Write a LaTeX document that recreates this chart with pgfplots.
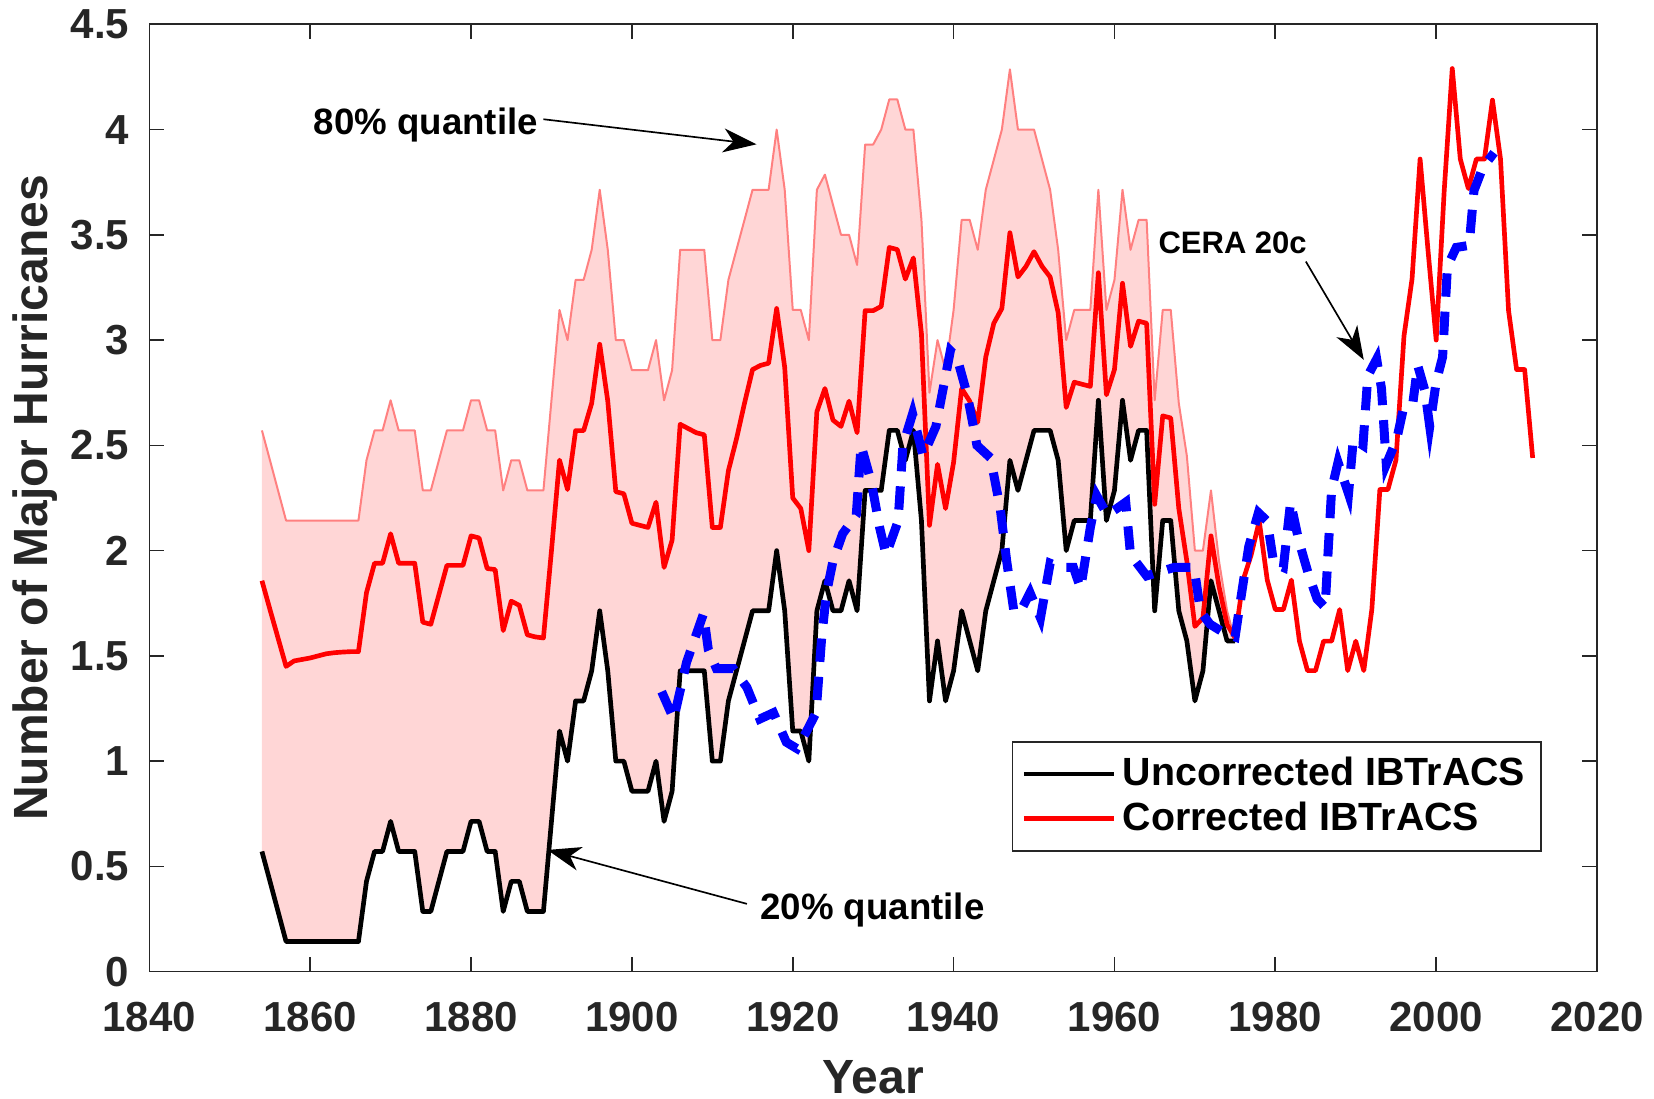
\documentclass[border=0pt]{standalone}
\usepackage{fontspec}
\setmainfont{Liberation Sans}
\usepackage{pgfplots}
\usepackage{pgfplotstable}
\pgfplotsset{compat=1.18}
\usepgfplotslibrary{fillbetween}
\usetikzlibrary{arrows.meta}

\definecolor{axgray}{RGB}{38,38,38}
\definecolor{bandfill}{RGB}{255,214,214}
\definecolor{bandline}{RGB}{255,128,128}

% Uncorrected IBTrACS (20% quantile edge) and 80% quantile
\pgfplotstableread{
year unc up
1854 0.571 2.571
1855 0.429 2.429
1856 0.286 2.286
1857 0.143 2.143
1858 0.143 2.143
1859 0.143 2.143
1860 0.143 2.143
1861 0.143 2.143
1862 0.143 2.143
1863 0.143 2.143
1864 0.143 2.143
1865 0.143 2.143
1866 0.143 2.143
1867 0.429 2.429
1868 0.571 2.571
1869 0.571 2.571
1870 0.714 2.714
1871 0.571 2.571
1872 0.571 2.571
1873 0.571 2.571
1874 0.286 2.286
1875 0.286 2.286
1876 0.429 2.429
1877 0.571 2.571
1878 0.571 2.571
1879 0.571 2.571
1880 0.714 2.714
1881 0.714 2.714
1882 0.571 2.571
1883 0.571 2.571
1884 0.286 2.286
1885 0.429 2.429
1886 0.429 2.429
1887 0.286 2.286
1888 0.286 2.286
1889 0.286 2.286
1890 0.714 2.714
1891 1.143 3.143
1892 1.000 3.000
1893 1.286 3.286
1894 1.286 3.286
1895 1.429 3.429
1896 1.714 3.714
1897 1.429 3.429
1898 1.000 3.000
1899 1.000 3.000
1900 0.857 2.857
1901 0.857 2.857
1902 0.857 2.857
1903 1.000 3.000
1904 0.714 2.714
1905 0.857 2.857
1906 1.429 3.429
1907 1.429 3.429
1908 1.429 3.429
1909 1.429 3.429
1910 1.000 3.000
1911 1.000 3.000
1912 1.286 3.286
1913 1.429 3.429
1914 1.571 3.571
1915 1.714 3.714
1916 1.714 3.714
1917 1.714 3.714
1918 2.000 4.000
1919 1.714 3.714
1920 1.143 3.143
1921 1.143 3.143
1922 1.000 3.000
1923 1.714 3.714
1924 1.857 3.786
1925 1.714 3.643
1926 1.714 3.500
1927 1.857 3.500
1928 1.714 3.357
1929 2.286 3.929
1930 2.286 3.929
1931 2.286 4.000
1932 2.571 4.143
1933 2.571 4.143
1934 2.429 4.000
1935 2.571 4.000
1936 2.143 3.571
1937 1.286 2.750
1938 1.571 3.000
1939 1.286 2.857
1940 1.429 3.143
1941 1.714 3.571
1942 1.571 3.571
1943 1.429 3.429
1944 1.714 3.714
1945 1.857 3.857
1946 2.000 4.000
1947 2.429 4.286
1948 2.286 4.000
1949 2.429 4.000
1950 2.571 4.000
1951 2.571 3.857
1952 2.571 3.714
1953 2.429 3.429
1954 2.000 3.000
1955 2.143 3.143
1956 2.143 3.143
1957 2.143 3.143
1958 2.714 3.714
1959 2.143 3.143
1960 2.286 3.286
1961 2.714 3.714
1962 2.429 3.429
1963 2.571 3.571
1964 2.571 3.571
1965 1.714 2.714
1966 2.143 3.143
1967 2.143 3.143
1968 1.714 2.700
1969 1.571 2.450
1970 1.286 2.000
1971 1.429 2.000
1972 1.857 2.286
1973 1.714 1.950
1974 1.571 1.714
1975 1.571 1.571
}\bandtable

% Corrected IBTrACS
\pgfplotstableread{
year cor
1854 1.857
1855 1.720
1856 1.585
1857 1.450
1858 1.476
1859 1.483
1860 1.490
1861 1.500
1862 1.510
1863 1.515
1864 1.518
1865 1.520
1866 1.520
1867 1.800
1868 1.940
1869 1.940
1870 2.080
1871 1.940
1872 1.940
1873 1.940
1874 1.660
1875 1.650
1876 1.790
1877 1.930
1878 1.930
1879 1.930
1880 2.070
1881 2.060
1882 1.915
1883 1.910
1884 1.620
1885 1.760
1886 1.740
1887 1.600
1888 1.590
1889 1.585
1890 2.000
1891 2.430
1892 2.290
1893 2.570
1894 2.570
1895 2.700
1896 2.980
1897 2.710
1898 2.280
1899 2.270
1900 2.130
1901 2.120
1902 2.110
1903 2.230
1904 1.920
1905 2.050
1906 2.600
1907 2.580
1908 2.560
1909 2.550
1910 2.110
1911 2.110
1912 2.380
1913 2.530
1914 2.700
1915 2.860
1916 2.880
1917 2.890
1918 3.150
1919 2.870
1920 2.250
1921 2.200
1922 2.000
1923 2.660
1924 2.770
1925 2.620
1926 2.590
1927 2.710
1928 2.560
1929 3.140
1930 3.140
1931 3.160
1932 3.440
1933 3.430
1934 3.290
1935 3.390
1936 3.030
1937 2.120
1938 2.410
1939 2.200
1940 2.420
1941 2.770
1942 2.710
1943 2.610
1944 2.920
1945 3.080
1946 3.150
1947 3.510
1948 3.300
1949 3.350
1950 3.420
1951 3.350
1952 3.300
1953 3.130
1954 2.680
1955 2.800
1956 2.790
1957 2.780
1958 3.320
1959 2.740
1960 2.860
1961 3.270
1962 2.970
1963 3.090
1964 3.080
1965 2.220
1966 2.640
1967 2.630
1968 2.200
1969 1.950
1970 1.640
1971 1.680
1972 2.070
1973 1.830
1974 1.650
1975 1.585
1976 1.860
1977 1.980
1978 2.140
1979 1.860
1980 1.720
1981 1.720
1982 1.860
1983 1.570
1984 1.430
1985 1.430
1986 1.570
1987 1.570
1988 1.720
1989 1.430
1990 1.570
1991 1.430
1992 1.720
1993 2.290
1994 2.290
1995 2.430
1996 3.020
1997 3.290
1998 3.860
1999 3.420
2000 3.000
2001 3.710
2002 4.290
2003 3.860
2004 3.720
2005 3.860
2006 3.860
2007 4.140
2008 3.860
2009 3.140
2010 2.860
2011 2.860
2012 2.440
}\cortable

% CERA-20C reanalysis
\pgfplotstableread{
year cera
1903.7 1.33
1905.2 1.20
1906.8 1.47
1908.9 1.70
1909.5 1.53
1910.5 1.44
1912.6 1.44
1914.3 1.35
1915.9 1.20
1917.6 1.23
1919.2 1.09
1920.5 1.06
1921.7 1.14
1922.9 1.23
1923.6 1.59
1924.2 1.80
1925.0 1.95
1926.2 2.08
1927.9 2.17
1928.5 2.50
1929.8 2.32
1930.8 2.11
1931.6 1.98
1933.1 2.14
1933.7 2.50
1934.9 2.65
1936.2 2.45
1937.8 2.59
1939.6 2.95
1940.4 2.92
1941.7 2.74
1942.9 2.50
1944.6 2.44
1945.8 2.20
1946.6 1.95
1947.5 1.71
1948.3 1.71
1949.5 1.80
1950.8 1.68
1952.0 1.94
1953.3 1.92
1954.9 1.92
1955.8 1.82
1957.0 2.11
1957.8 2.26
1959.1 2.17
1960.3 2.20
1961.4 2.23
1962.0 1.98
1964.0 1.88
1967.4 1.92
1969.9 1.92
1970.7 1.71
1971.9 1.65
1973.6 1.61
1975.0 1.59
1975.7 1.77
1976.7 2.02
1977.9 2.18
1979.0 2.14
1979.8 1.94
1981.0 1.92
1981.9 2.23
1982.9 2.05
1984.1 1.89
1985.2 1.77
1986.2 1.73
1986.6 2.02
1987.0 2.29
1987.8 2.42
1989.1 2.27
1989.7 2.53
1990.9 2.50
1991.5 2.83
1992.6 2.91
1993.2 2.77
1993.8 2.41
1995.1 2.53
1995.9 2.67
1997.1 2.70
1997.7 2.88
1998.6 2.76
1999.2 2.59
2000.0 2.80
2000.8 2.92
2001.4 3.35
2002.5 3.44
2004.1 3.45
2004.7 3.71
2005.8 3.82
2007.2 3.89
}\ceratable

\begin{document}
\begin{tikzpicture}
\begin{axis}[
  name=ax,
  scale only axis,
  width=434.3pt, height=284.2pt,
  xmin=1840, xmax=2020, ymin=0, ymax=4.5,
  xtick={1840,1860,1880,1900,1920,1940,1960,1980,2000,2020},
  ytick={0,0.5,1,1.5,2,2.5,3,3.5,4,4.5},
  tick align=inside,
  major tick length=4.4pt,
  axis line style={axgray, line width=0.5pt},
  every tick/.style={axgray, line width=0.5pt},
  /pgf/number format/assume math mode=true,
  /pgf/number format/1000 sep={},
  ticklabel style={font=\bfseries\fontsize{12.6}{15}\selectfont, text=axgray},
  xticklabel style={anchor=north, inner sep=0pt, yshift=-9pt},
  yticklabel style={anchor=east, inner sep=0pt, xshift=-5.8pt},
  xlabel={Year},
  ylabel={Number of Major Hurricanes},
  label style={font=\bfseries\fontsize{14.4}{17}\selectfont, text=axgray},
  xlabel style={at={(axis description cs:0.5,0)}, anchor=center, yshift=-31.6pt},
  ylabel style={at={(axis description cs:-0.0791,0.5)}, anchor=center},
  legend style={at={(axis description cs:0.5957,0.2435)}, anchor=north west,
    draw=axgray, line width=0.5pt, fill=white,
    font=\bfseries\fontsize{11.8}{14}\selectfont,
    inner xsep=2.7pt, inner ysep=2.6pt, row sep=-0.6pt,
    /tikz/every even column/.append style={column sep=1.2pt}},
  legend cell align=left,
  legend image code/.code={\draw[#1] (0pt,0pt) -- (27pt,0pt);},
]
% quantile band between the 20% and 80% edges
\addplot[name path=upper, draw=none, forget plot] table[x=year, y=up]{\bandtable};
\addplot[name path=lower, draw=none, forget plot] table[x=year, y=unc]{\bandtable};
\addplot[bandfill, forget plot] fill between[of=upper and lower];
\addplot[bandline, line width=0.6pt, line join=round, forget plot] table[x=year, y=up]{\bandtable};

\addplot[black, line width=1.4pt, line join=round] table[x=year, y=unc]{\bandtable};
\addlegendentry{Uncorrected IBTrACS}
\addplot[red, line width=1.4pt, line join=round] table[x=year, y=cor]{\cortable};
\addlegendentry{Corrected IBTrACS}
\addplot[blue, line width=2.7pt, dash pattern=on 7pt off 4.5pt, forget plot] table[x=year, y=cera]{\ceratable};

% annotations
\node[anchor=base west, inner sep=0pt, font=\bfseries\fontsize{11}{13}\selectfont] at (axis cs:1860.35,3.975) {80\% quantile};
\draw[-{Stealth[length=10pt,width=7.2pt,inset=3pt]}, line width=0.5pt] (axis cs:1889.0,4.049) -- (axis cs:1915.5,3.93);
\node[anchor=base west, inner sep=0pt, font=\bfseries\fontsize{11}{13}\selectfont] at (axis cs:1915.9,0.2456) {20\% quantile};
\draw[-{Stealth[length=10pt,width=7.2pt,inset=3pt]}, line width=0.5pt] (axis cs:1914.3,0.322) -- (axis cs:1889.5,0.578);
\node[anchor=base west, inner sep=0pt, font=\bfseries\fontsize{9.3}{11}\selectfont] at (axis cs:1965.4,3.413) {CERA 20c};
\draw[-{Stealth[length=10pt,width=7.2pt,inset=3pt]}, line width=0.5pt] (axis cs:1983.8,3.373) -- (axis cs:1991.0,2.906);
\end{axis}
\pgfresetboundingbox
\path[use as bounding box] ([shift={(-44.8pt,-38.2pt)}]ax.south west) rectangle ([shift={(17.1pt,7.3pt)}]ax.north east);
\end{tikzpicture}
\end{document}
